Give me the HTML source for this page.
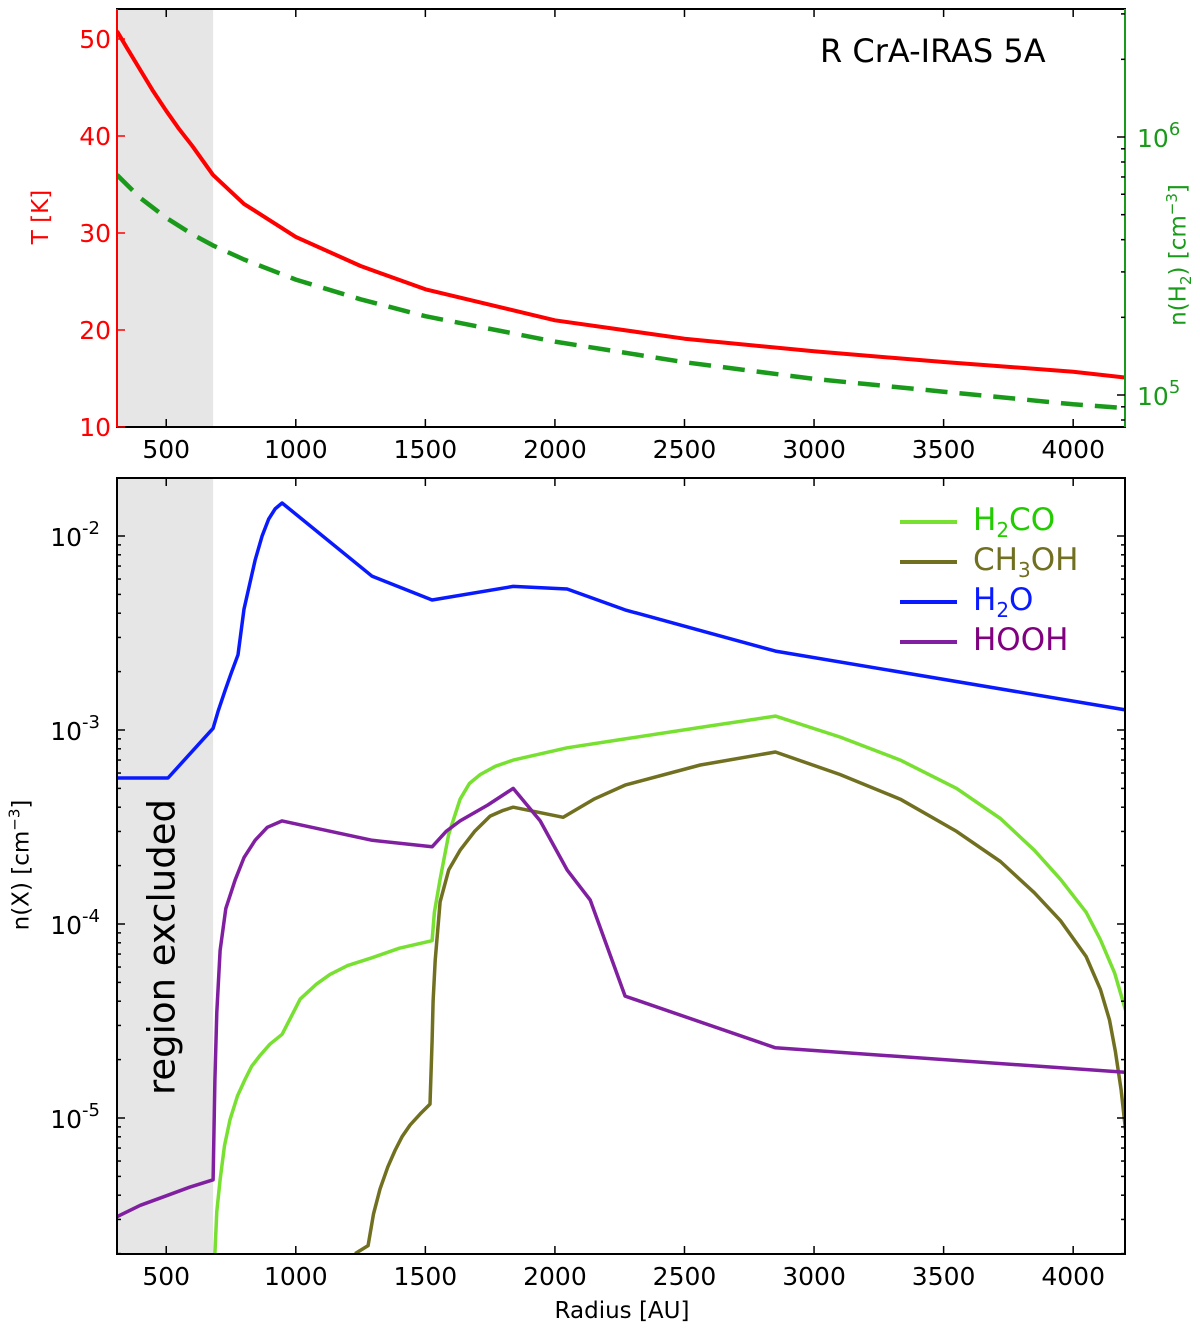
<!DOCTYPE html>
<html><head><meta charset="utf-8"><style>
html,body{margin:0;padding:0;background:#fff;}
svg{display:block;font-family:"DejaVu Sans","Liberation Sans",sans-serif;}
</style></head><body>
<svg id="c" width="1200" height="1331" viewBox="0 0 1200 1331" xmlns="http://www.w3.org/2000/svg"></svg>
<script>
// ---- data ----
const tempR = [310, 350, 400, 450, 500, 550, 600, 680, 800, 1000, 1250, 1500, 2000, 2500, 3000, 3500, 4000, 4200];
const tempT = [50.8, 49.0, 46.8, 44.6, 42.6, 40.7, 39.0, 36.0, 33.0, 29.6, 26.6, 24.2, 21.0, 19.1, 17.8, 16.7, 15.7, 15.1];
const densR = [310, 400, 500, 600, 680, 800, 1000, 1250, 1500, 2000, 2500, 3000, 3500, 4000, 4200];
const densN = [7.13e5, 5.8e5, 4.86e5, 4.2e5, 3.8e5, 3.35e5, 2.8e5, 2.35e5, 2.02e5, 1.61e5, 1.34e5, 1.155e5, 1.03e5, 9.2e4, 8.9e4];
const h2oR = [310, 507, 681, 700, 727, 750, 777, 800, 843, 870, 895, 920, 947, 1295, 1526, 1839, 2047, 2271, 2851, 4202];
const h2oV = [5.66e-4, 5.66e-4, 1.02e-3, 1.25e-3, 1.6e-3, 1.95e-3, 2.44e-3, 4.2e-3, 7.5e-3, 1.0e-2, 1.22e-2, 1.38e-2, 1.48e-2, 6.2e-3, 4.68e-3, 5.5e-3, 5.33e-3, 4.16e-3, 2.55e-3, 1.27e-3];
const h2coR = [688, 695, 708, 725, 746, 775, 804, 830, 862, 900, 947, 1017, 1080, 1132, 1200, 1295, 1400, 1526, 1535, 1557, 1590, 1634, 1670, 1712, 1770, 1839, 2047, 2271, 2600, 2851, 3100, 3333, 3550, 3719, 3850, 3951, 4050, 4105, 4160, 4202];
const h2coV = [2e-6, 3.3e-6, 4.8e-6, 7.2e-6, 9.8e-6, 1.3e-5, 1.58e-5, 1.85e-5, 2.1e-5, 2.4e-5, 2.7e-5, 4.1e-5, 4.9e-5, 5.5e-5, 6.1e-5, 6.7e-5, 7.5e-5, 8.2e-5, 1.15e-4, 1.7e-4, 2.9e-4, 4.4e-4, 5.3e-4, 5.9e-4, 6.5e-4, 7.0e-4, 8.1e-4, 9.0e-4, 1.05e-3, 1.18e-3, 9.2e-4, 7.0e-4, 5.0e-4, 3.5e-4, 2.4e-4, 1.7e-4, 1.15e-4, 8.3e-5, 5.6e-5, 3.6e-5];
const meohR = [1229, 1279, 1300, 1325, 1355, 1383, 1410, 1441, 1480, 1518, 1526, 1530, 1538, 1557, 1590, 1634, 1690, 1750, 1800, 1839, 2032, 2150, 2271, 2561, 2851, 3100, 3333, 3550, 3719, 3850, 3951, 4050, 4105, 4140, 4163, 4185, 4202];
const meohV = [2e-6, 2.2e-6, 3.2e-6, 4.3e-6, 5.6e-6, 6.8e-6, 8.0e-6, 9.2e-6, 1.05e-5, 1.18e-5, 2.5e-5, 4.0e-5, 6.5e-5, 1.3e-4, 1.9e-4, 2.4e-4, 3.0e-4, 3.6e-4, 3.85e-4, 4.0e-4, 3.55e-4, 4.4e-4, 5.2e-4, 6.6e-4, 7.7e-4, 5.9e-4, 4.4e-4, 3.0e-4, 2.1e-4, 1.45e-4, 1.04e-4, 6.8e-5, 4.6e-5, 3.2e-5, 2.2e-5, 1.4e-5, 8.7e-6];
const hoohR = [310, 400, 495, 590, 681, 688, 695, 708, 730, 766, 800, 843, 890, 947, 1295, 1526, 1580, 1634, 1740, 1839, 1943, 2047, 2136, 2271, 2851, 4202];
const hoohV = [3.1e-6, 3.55e-6, 3.95e-6, 4.4e-6, 4.8e-6, 1.57e-5, 3.5e-5, 7.3e-5, 1.2e-4, 1.69e-4, 2.2e-4, 2.7e-4, 3.15e-4, 3.4e-4, 2.7e-4, 2.5e-4, 3.0e-4, 3.4e-4, 4.1e-4, 5.0e-4, 3.4e-4, 1.9e-4, 1.33e-4, 4.25e-5, 2.3e-5, 1.72e-5];
const xTicks = [500, 1000, 1500, 2000, 2500, 3000, 3500, 4000];
const tTicks = [10, 20, 30, 40, 50];
const nTickExp = [5, 6];
const xExp = [-5, -4, -3, -2];

// ---- axes ----
const L = 117, R = 1125;
const X = r => L + (r - 310) * (R - L) / (4200 - 310);
const T1 = 9, B1 = 427;
const YT = t => 427 - (t - 10) * 9.7;
const YN = n => 395 - (Math.log10(n) - 5) * 258;
const T2 = 478, B2 = 1254;
const YX = v => 1118 - (Math.log10(v) + 5) * 194;
const NS = 'http://www.w3.org/2000/svg';
const svg = document.getElementById('c');
function mk(tag, attrs, parent) { const e = document.createElementNS(NS, tag); for (const k in attrs) e.setAttribute(k, attrs[k]); (parent || svg).appendChild(e); return e; }
function path(xs, ys, fx, fy, stroke, w, dash, name) {
  let d = '';
  xs.forEach((x, i) => { d += (i ? 'L' : 'M') + fx(x).toFixed(1) + ',' + fy(ys[i]).toFixed(1); });
  const p = mk('path', { d: d, fill: 'none', stroke: stroke, 'stroke-width': w, 'stroke-linejoin': 'round' });
  if (dash) p.setAttribute('stroke-dasharray', dash);
  
  
  return p;
}
mk('defs', {}).innerHTML = '<clipPath id="cp1"><rect x="117" y="9" width="1008" height="418"/></clipPath><clipPath id="cp2"><rect x="117" y="478" width="1008" height="776"/></clipPath>';

const sh1 = mk('rect', { x: L, y: T1, width: X(681) - L, height: B1 - T1, fill: '#e6e6e6' });


const sh2 = mk('rect', { x: L, y: T2, width: X(681) - L, height: B2 - T2, fill: '#e6e6e6' });



const g1 = mk('g', { 'clip-path': 'url(#cp1)' });
g1.appendChild(path(densR, densN, X, YN, '#1a9a1a', 4.5, '22,12', 'density-line'));
g1.appendChild(path(tempR, tempT, X, YT, '#ff0000', 4, null, 'temperature-line'));

const g2 = mk('g', { 'clip-path': 'url(#cp2)' });
g2.appendChild(path(h2coR, h2coV, X, YX, '#77e030', 3.5, null, 'h2co-line'));
g2.appendChild(path(meohR, meohV, X, YX, '#707020', 3.5, null, 'ch3oh-line'));
g2.appendChild(path(hoohR, hoohV, X, YX, '#8020a0', 3.5, null, 'hooh-line'));
g2.appendChild(path(h2oR, h2oV, X, YX, '#0a1aff', 3.5, null, 'h2o-line'));

mk('rect', { x: L, y: T1, width: R - L, height: B1 - T1, fill: 'none', stroke: '#000', 'stroke-width': 2 });
mk('line', { x1: L, y1: T1, x2: L, y2: B1, stroke: '#ff0000', 'stroke-width': 2 });
mk('line', { x1: R, y1: T1, x2: R, y2: B1, stroke: '#1a9a1a', 'stroke-width': 2 });
mk('rect', { x: L, y: T2, width: R - L, height: B2 - T2, fill: 'none', stroke: '#000', 'stroke-width': 2 });

xTicks.forEach(v => {
  const x = X(v);
  [[B1, 'top'], [B2, 'bottom']].forEach(([b, p]) => {
    mk('line', { x1: x, y1: b, x2: x, y2: b - 8, stroke: '#000', 'stroke-width': 1.5 });
    mk('line', { x1: x, y1: p === 'top' ? T1 : T2, x2: x, y2: (p === 'top' ? T1 : T2) + 8, stroke: '#000', 'stroke-width': 1.5 });
    const t = mk('text', { x: x, y: b + 31, 'font-size': 25, 'text-anchor': 'middle', fill: '#000' });
    t.textContent = v;
    
    
  });
});
tTicks.forEach(v => {
  const y = YT(v);
  mk('line', { x1: L, y1: y, x2: L + 8, y2: y, stroke: '#ff0000', 'stroke-width': 1.5 });
  const t = mk('text', { x: L - 6, y: y + 9, 'font-size': 25, 'text-anchor': 'end', fill: '#ff0000' });
  t.textContent = v;
  
  
});
for (let e = 4; e <= 6; e++) for (let m = 1; m <= 9; m++) {
  const y = YN(m * Math.pow(10, e));
  if (y < T1 || y > B1) continue;
  mk('line', { x1: R, y1: y, x2: R - (m === 1 ? 8 : 4), y2: y, stroke: '#000', 'stroke-width': 1.5 });
}
nTickExp.forEach(e => {
  const y = YN(Math.pow(10, e));
  const t = mk('text', { x: R + 12, y: y + 10, 'font-size': 25, fill: '#1a9a1a' });
  t.innerHTML = '10<tspan dy="-12" font-size="18">' + e + '</tspan>';
  
  
});
for (let e = -6; e <= -2; e++) for (let m = 1; m <= 9; m++) {
  const y = YX(m * Math.pow(10, e));
  if (y < T2 || y > B2) continue;
  mk('line', { x1: L, y1: y, x2: L + (m === 1 ? 8 : 4), y2: y, stroke: '#000', 'stroke-width': 1.5 });
  mk('line', { x1: R, y1: y, x2: R - (m === 1 ? 8 : 4), y2: y, stroke: '#000', 'stroke-width': 1.5 });
}
xExp.forEach(e => {
  const y = YX(Math.pow(10, e));
  const t = mk('text', { x: 100, y: y + 10, 'font-size': 25, 'text-anchor': 'end', fill: '#000' });
  t.innerHTML = '10<tspan dy="-12" font-size="18">' + e + '</tspan>';
  
  
});
</script>
<div style="position:absolute;left:0;top:0;width:1200px;height:1331px;pointer-events:none;font-family:'DejaVu Sans','Liberation Sans',sans-serif;">
  <div style="position:absolute;left:820px;top:32px;font-size:32px;color:#000;">R CrA-IRAS 5A</div>
  <div style="position:absolute;left:41px;top:217px;font-size:23px;color:#ff0000;transform:translate(-50%,-50%) rotate(-90deg);white-space:nowrap;">T [K]</div>
  <div style="position:absolute;left:1179px;top:255px;font-size:23px;color:#1a9a1a;transform:translate(-50%,-50%) rotate(-90deg);white-space:nowrap;">n(H<sub style="font-size:15px">2</sub>) [cm<sup style="font-size:15px">−3</sup>]</div>
  <div style="position:absolute;left:20px;top:865px;font-size:23px;color:#000;transform:translate(-50%,-50%) rotate(-90deg);white-space:nowrap;">n(X) [cm<sup style="font-size:15px">−3</sup>]</div>
  <div style="position:absolute;left:162px;top:947px;font-size:37px;color:#000;transform:translate(-50%,-50%) rotate(-90deg);white-space:nowrap;">region excluded</div>
  <div style="position:absolute;left:622px;top:1311px;font-size:23px;color:#000;transform:translate(-50%,-50%);white-space:nowrap;">Radius [AU]</div>
  <div style="position:absolute;left:900px;top:500px;font-size:31px;line-height:40px;">
    <div style="height:40px;color:#22cc00;"><span style="display:inline-block;width:57px;height:4px;background:#77e030;vertical-align:middle;margin-right:16px;"></span>H<sub style="font-size:20px">2</sub>CO</div>
    <div style="height:40px;color:#707020;"><span style="display:inline-block;width:57px;height:4px;background:#707020;vertical-align:middle;margin-right:16px;"></span>CH<sub style="font-size:20px">3</sub>OH</div>
    <div style="height:40px;color:#0a1aff;"><span style="display:inline-block;width:57px;height:4px;background:#0a1aff;vertical-align:middle;margin-right:16px;"></span>H<sub style="font-size:20px">2</sub>O</div>
    <div style="height:40px;color:#800080;"><span style="display:inline-block;width:57px;height:4px;background:#8020a0;vertical-align:middle;margin-right:16px;"></span>HOOH</div>
  </div>
</div>
</body></html>
